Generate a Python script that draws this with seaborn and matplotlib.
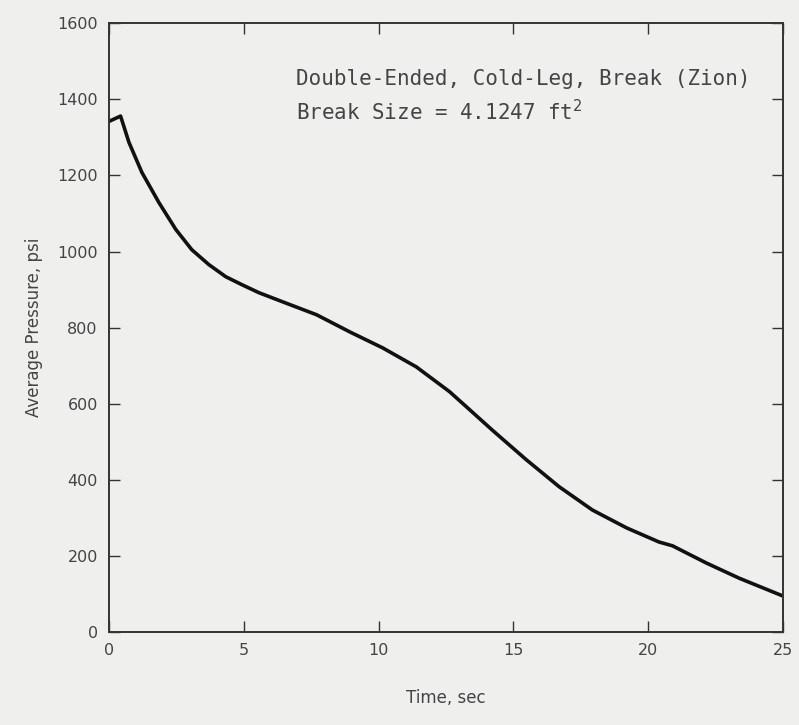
import matplotlib
matplotlib.use("Agg")
import matplotlib.pyplot as plt
import seaborn as sns
import pandas as pd

# values
time_sec = [0.0, 0.43, 0.74, 1.22, 1.85, 2.48, 3.07, 3.7, 4.33, 4.93, 5.56,
            6.44, 7.7, 8.93, 10.15, 11.4, 12.63, 13.26, 14.2, 15.48, 16.7,
            17.93, 19.2, 20.4, 20.9, 22.15, 23.37, 25.0]
pressure_psi = [1342, 1356, 1287, 1208, 1129, 1058, 1005, 966, 934, 913, 892,
                868, 834, 789, 747, 697, 632, 592, 532, 453, 382,
                321, 274, 237, 227, 182, 142, 95]

x_ticks = [0, 5, 10, 15, 20, 25]
y_ticks = [0, 200, 400, 600, 800, 1000, 1200, 1400, 1600]

df = pd.DataFrame({"t": time_sec, "p": pressure_psi})

sns.set_style("ticks")
plt.rcParams["font.family"] = ["DejaVu Sans"]

bg = "#efefed"
fig = plt.figure(figsize=(7.99, 7.25), dpi=100, facecolor=bg)
ax = fig.add_axes([0.1364, 0.128, 0.8436, 0.840])
ax.set_facecolor(bg)

sns.lineplot(data=df, x="t", y="p", ax=ax, color="#111111", linewidth=2.6)

ax.set_xlim(0, 25)
ax.set_ylim(0, 1600)
ax.set_xticks(x_ticks)
ax.set_yticks(y_ticks)
ax.tick_params(direction="in", length=8, width=1.0, top=True, right=True,
               labelsize=11.5, labelcolor="#444444", color="#333333", pad=8)
for s in ax.spines.values():
    s.set_color("#333333")
    s.set_linewidth(1.4)

ax.set_xlabel("Time, sec", fontsize=12, color="#444444", labelpad=22)
ax.set_ylabel("Average Pressure, psi", fontsize=12, color="#444444", labelpad=10)

ax.text(6.93, 1453, "Double-Ended, Cold-Leg, Break (Zion)",
        family="DejaVu Sans Mono", fontsize=15, color="#444444", va="center")
ax.text(6.93, 1368, "Break Size = 4.1247 ft$^2$",
        family="DejaVu Sans Mono", fontsize=15, color="#444444", va="center")

plt.savefig("out.png", dpi=100, facecolor=bg)
plt.close()
